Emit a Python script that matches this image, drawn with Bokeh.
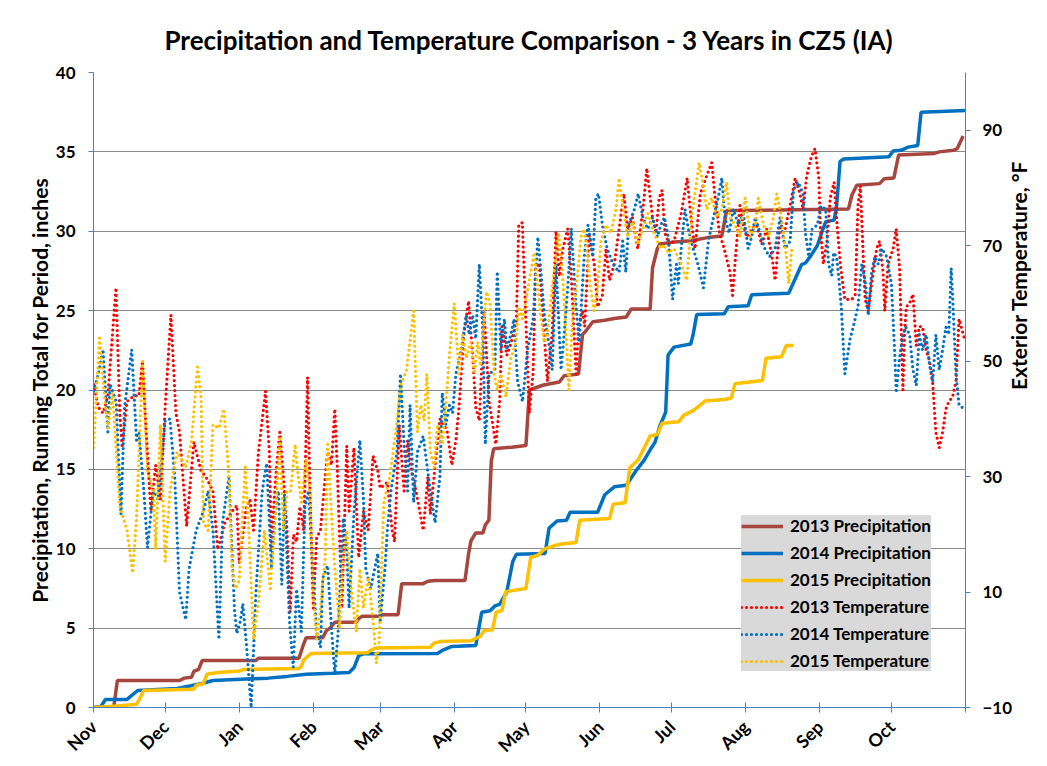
import math
from bokeh.plotting import figure
from bokeh.models import Range1d, LinearAxis, FixedTicker, Legend, LegendItem
from bokeh.embed import file_html
from bokeh.resources import INLINE

# ---------------- data ----------------
month_names = ["Nov", "Dec", "Jan", "Feb", "Mar", "Apr", "May", "Jun", "Jul", "Aug", "Sep", "Oct"]
month_start_day = [0, 30, 61, 92, 120, 151, 181, 212, 242, 273, 304, 334]
precip_ticks = [0, 5, 10, 15, 20, 25, 30, 35, 40]
temp_ticks = [-10, 10, 30, 50, 70, 90]

# cumulative precipitation (day of period, inches)
precip_2013 = [(0, 0), (8.5, 0.05), (10, 1.7), (36, 1.7), (38, 1.85), (41, 1.9), (42, 2.27), (44, 2.4), (45.5, 2.96),
               (68, 2.96), (69, 3.1), (86, 3.1), (87.5, 3.8), (89, 4.4), (96, 4.4), (97.5, 4.85), (99, 5.0), (101, 5.37),
               (110, 5.37), (111, 5.6), (112.5, 5.75), (120, 5.75), (121, 5.85), (127.5, 5.85), (129, 7.8), (138, 7.8),
               (140, 7.95), (143, 8.0), (155.5, 8.0), (157, 9.7), (158, 10.5), (160, 11.0), (163, 11.0), (164, 11.5),
               (165.5, 11.8), (166.5, 15.5), (167.5, 16.3), (175, 16.4), (181, 16.5), (182.5, 20.0), (188, 20.3),
               (195, 20.5), (197, 20.9), (203, 21.0), (204.7, 23.5), (206, 23.7), (209, 24.3), (214, 24.4), (218, 24.5),
               (223, 24.6), (225, 25.1), (233, 25.1), (234, 27.7), (236, 28.9), (237, 29.2), (242, 29.3), (250, 29.4),
               (257, 29.6), (263, 29.7), (264, 30.5), (265, 31.3), (316, 31.4), (317.5, 32.3), (319.5, 32.9), (329, 33.0),
               (331, 33.3), (335, 33.35), (337, 34.8), (352, 34.9), (354, 35.0), (360, 35.1), (361.5, 35.2), (364, 36.0)]
precip_2014 = [(0, 0), (3, 0.05), (5, 0.5), (14, 0.5), (15.5, 0.7), (18.5, 1.07), (35, 1.2), (45, 1.5), (50, 1.7),
               (64, 1.8), (73, 1.85), (81, 1.96), (89, 2.1), (100, 2.15), (107, 2.2), (109, 2.5), (111, 3.27), (113, 3.38),
               (144, 3.4), (146, 3.6), (150, 3.85), (160, 3.9), (162.5, 6.0), (166, 6.1), (168, 6.4), (170, 6.5), (173, 7.3),
               (175.5, 9.2), (177, 9.65), (189, 9.7), (190.7, 11.3), (194, 11.75), (198, 11.8), (199.5, 12.3), (211, 12.3),
               (214, 13.4), (218, 13.9), (223, 14.0), (227, 14.9), (230.6, 15.6), (233.3, 16.3), (235, 16.7), (237, 17.7),
               (239.5, 18.6), (240.5, 22.2), (243, 22.7), (250, 22.9), (251, 23.5), (252.5, 24.75), (264, 24.8),
               (265.7, 25.25), (274, 25.3), (275.5, 26.0), (291, 26.1), (294.3, 27.2), (296.4, 27.9), (298, 28.0),
               (300, 28.4), (303, 29.1), (305, 30.0), (306.5, 30.6), (310, 30.7), (311, 31.5), (312.5, 34.4), (314, 34.55),
               (333, 34.7), (334.7, 35.05), (338, 35.1), (341, 35.3), (345, 35.4), (346.4, 37.5), (365, 37.6)]
precip_2015 = [(0, 0), (10, 0.1), (18, 0.2), (19.5, 0.6), (21, 1.07), (42, 1.15), (43, 1.4), (46, 1.5), (47.5, 2.1),
               (52, 2.2), (61, 2.3), (63, 2.4), (86, 2.45), (87, 2.6), (88, 3.0), (89.5, 3.2), (91, 3.4), (114.6, 3.45),
               (116, 3.6), (118, 3.75), (141, 3.8), (142.5, 4.05), (145, 4.15), (158, 4.2), (160, 4.35), (162, 4.5),
               (163.5, 4.85), (167, 4.9), (168.5, 6.0), (171, 6.1), (172.5, 7.3), (181, 7.5), (183, 9.45), (186, 9.6),
               (189, 10.0), (193, 10.2), (196, 10.3), (202, 10.4), (203.5, 11.8), (216, 11.9), (217.5, 12.8), (222.5, 12.9),
               (224.5, 15.1), (228, 15.6), (230, 16.2), (233, 17.1), (236, 17.2), (238, 17.9), (245, 18.0), (247, 18.4),
               (251, 18.7), (256, 19.3), (264, 19.4), (267, 19.5), (268.5, 20.4), (280, 20.6), (281.5, 22.0), (288, 22.1),
               (290, 22.8), (293, 22.8)]

# daily exterior temperature (day of period, deg F)
temp_2013 = [(0, 46), (2, 42), (4, 41), (6, 44), (8, 55), (9.4, 62.7), (11, 41), (12, 35), (14, 43), (17, 44), (19, 44),
             (20.5, 50), (22, 38), (24, 24), (26, 32), (28, 26), (30, 42), (32.4, 58), (34.5, 41), (36, 37.7), (39, 21.4),
             (42, 36), (45, 31), (47, 30), (50, 27.5), (52, 17.4), (55, 22), (58, 24), (60, 25),
             (61, 15), (64, 24.8), (65.5, 26), (67, 20.7), (69, 34), (72, 44.8), (73.6, 34.3), (74.5, 17.4), (75.3, 24),
             (76.5, 31), (78, 37.7), (79.5, 30), (81, 20.7), (82.3, 6.5), (83.7, 20), (85, 18.7), (86.4, 24.8), (88, 20.7),
             (89.6, 47.2), (90.6, 27.5), (92, 7.2), (93.4, 19.4), (95, 20.7), (97, 30), (98, 34.3), (99.6, 32), (101, 41.7),
             (102, 32), (104, 7.2), (106, 35.3), (107, 24), (109, 35), (111, 16), (113, 24), (115, 20.7), (117, 33.6),
             (119, 31),
             (120, 28), (123, 29), (125, 20.7), (126, 18.7), (128, 39), (130, 27.5), (131.5, 36.3), (133, 31), (135, 27.5),
             (138, 20.7), (140, 30), (141, 23.5), (143.5, 34), (145, 40), (148, 38), (150, 32), (151.7, 36.3), (153, 42),
             (155, 54.6), (157, 60.4), (158.7, 51), (160, 42), (161.5, 39.7), (163.5, 58.7), (165.6, 43), (168.4, 35.6),
             (170, 43), (171, 56), (173, 51), (174.7, 53), (177, 57), (178, 73.6),
             (179.5, 74), (182.4, 41), (184, 48), (185, 66), (186.6, 67), (190, 46.5), (192, 55), (193.6, 72.5),
             (195, 64.7), (196.4, 69.4), (198.5, 72.9), (200, 64.7), (202, 47.8), (203, 56), (204.7, 58.7), (205.6, 56),
             (207.5, 72.2), (209.6, 66.8), (211, 59.4), (213, 61.4), (214.5, 69.5), (216, 64), (218, 66.8), (220, 72.9),
             (222, 79), (223.6, 72.9), (225.6, 74.9), (227.8, 69.5), (230, 76.3), (231.6, 83.4), (234, 74.9),
             (235.4, 72.2), (236.8, 78.3),
             (238, 79.6), (239.2, 72.2), (241, 70.2), (243, 70.8), (246, 75.6), (248.5, 81.7), (250.4, 73.6),
             (251.8, 69.5), (254, 79), (256.3, 81.7), (258.8, 84.4), (260, 79), (262, 72.2), (264, 69.5), (266.4, 65.4),
             (267.5, 61.4), (269, 69.5), (270.6, 77), (272, 73.6), (273.4, 71.5), (275.5, 72.9), (277.6, 73.6),
             (279.7, 70.2), (281.8, 72.9), (284, 68.1), (285.3, 64), (287.4, 73.6), (289.5, 72.9), (291.6, 77),
             (293.7, 81.7), (295.7, 79), (297, 76.3),
             (298.5, 82), (300.5, 85.5), (302, 86.8), (303.6, 81.7), (304.3, 72.9), (305.5, 66.8), (307, 70.8),
             (308.4, 78.3), (310, 81), (311, 74.9), (312.6, 66.8), (314.5, 60.7), (317.4, 60.7), (318.8, 61.4), (320, 77),
             (321, 80.4), (322.2, 68.1), (323, 60.7), (324.3, 58.7), (325.7, 63.4), (327.8, 69.5), (329, 70.8),
             (330.5, 65.4), (331.2, 58.7), (332.6, 66.8), (334.7, 69.5), (336, 72.9), (337.4, 66.1), (338, 57.3),
             (338.8, 45), (339.5, 54.6), (340.2, 59.4), (341.6, 60), (343, 61.6), (344.4, 52.7), (345.7, 56), (347, 56),
             (348.5, 52), (350, 50), (351.3, 46), (352.6, 37.7), (354, 35), (355.4, 37.7), (356.8, 41.7), (358, 43),
             (359.6, 43.8), (361, 46.5), (362.3, 57.3), (364.5, 54)]
temp_2014 = [(0, 44.8), (2, 47.8), (4, 52), (6, 37.7), (7, 46), (9.5, 43), (11.5, 23.5), (13, 42), (16, 52), (18, 36.3),
             (19, 37.7), (21, 28), (22.6, 17.7), (25, 27.5), (27, 26), (30, 39.7), (32, 40), (34, 30), (36, 10),
             (38.6, 5.2), (40, 14), (43, 20.7), (46, 24), (48, 27.5), (50, 20.7), (52.5, 1.8), (54, 22), (56.7, 30),
             (59, 7), (60, 2.8),
             (61.5, 5), (62.5, 8), (64, 1), (66, -10), (68, 10), (70.5, 27), (71.5, 30), (72.5, 32.3), (74.5, 14),
             (76, 23.5), (77.4, 27.5), (78.8, 11.3), (80, 27), (82, 5.2), (83.6, -3), (85, 10.5), (87, 3.1), (88.5, 24.8),
             (90, 27.5), (92, 12.5), (93.4, 3.1), (95, 0.4), (96, 12.5), (98, 14.6), (99.6, 3.8), (101, -4.3),
             (102.4, 3.1), (104.5, 22.8), (106, 17.4), (107, 7.2), (109, 23.5), (111.5, 36.3), (113, 26), (114, 14),
             (116, 10.6), (119, 16.7),
             (120, 5), (122, 14), (123, 20.7), (124.5, 27.5), (127, 34.3), (128.5, 47.8), (130, 35.6), (131.5, 27.5),
             (132.5, 42.4), (134, 25.5), (135.6, 34.3), (138, 37), (141, 27.5), (143, 22), (145, 30), (146, 44.5),
             (147.5, 39), (149, 42.4), (150.3, 41), (151.7, 47.8), (154, 52), (156, 58), (157.3, 54.6), (158.7, 58),
             (160, 53.9), (161.5, 66.8), (163, 54.6), (164, 35.6), (165.6, 47.8), (168, 48.5), (169, 65.5),
             (170.5, 52), (172, 57.3), (173, 52), (174.7, 54.6), (176, 57.3), (177.5, 46.5),
             (179.6, 43), (181.7, 52), (184, 57.3), (186, 71.5), (187.3, 65.4), (188.7, 58), (191, 52), (192, 48.5),
             (193.6, 66.8), (195.7, 48.5), (197, 54.6), (198.5, 62.7), (200, 73), (202, 59.4), (203.3, 53.3),
             (205.4, 68.1), (207, 73.6), (209, 68.1), (210.3, 78.3), (211.4, 79), (213, 73.6), (215, 69.5),
             (217.5, 66.8), (220, 65.4), (221.5, 70.8), (222.8, 65.4), (224, 73.6), (226.4, 76.3), (228, 79),
             (230, 74.9), (232, 72.9), (234, 74.9), (236, 71.5), (237.5, 73.6),
             (239, 74.9), (240.6, 71.5), (242.4, 60.7), (244, 66.8), (244.8, 63.4), (246, 69.5), (247.6, 76.3),
             (249, 72.9), (251, 69.5), (253, 66.8), (255.3, 62.7), (257.4, 70.8), (259.5, 74.9), (261.5, 78.3),
             (263, 81.7), (264.3, 74.9), (266, 72.2), (267.8, 76.3), (270, 73.6), (272, 75.6), (274, 69.5),
             (275.5, 71.5), (277, 74.9), (279, 72.2), (281, 69.5), (283, 68.1), (285.3, 69.5), (287.4, 74.9),
             (289.5, 69.5), (291.6, 70.8), (293, 79.7), (295, 81), (297, 79),
             (298, 72.2), (299.4, 68.1), (300.8, 72.9), (303, 73.6), (304.5, 76.9), (306.5, 76.3), (307.7, 66.8),
             (309, 64.8), (309.8, 68.8), (311, 68.1), (311.9, 64.8), (313, 59.4), (314.5, 47.8), (316.7, 53.9),
             (318, 55.9), (320, 59.4), (321.6, 66.8), (323, 64), (324.3, 57.9), (325.7, 65.4), (327, 68.1),
             (328.5, 66.8), (330, 69.5), (332, 68.1), (334, 63.4), (335.4, 51.2), (336, 44.5), (337.4, 50.5),
             (338.8, 54.6), (340, 55.9), (341.6, 54.6), (343, 48.5), (344.4, 45.8), (345.7, 54.6), (347, 51.9),
             (348.5, 54.6), (350, 49.2), (351.3, 46.5), (352.6, 54.6), (354, 48.5), (355.4, 51.9), (356.8, 55.9),
             (358, 54.6), (359, 66.1), (359.6, 61.4), (361, 47.8), (362.3, 42.4), (364.5, 41.7)]
temp_2015 = [(0, 35), (2.5, 54), (4.6, 43.8), (6, 38.4), (8, 44.5), (11, 25), (12, 23.5), (14, 20.7), (16.4, 13.3),
             (18, 22.7), (20.5, 50), (22.6, 31), (25, 27.5), (26, 17.4), (28, 39), (30, 15.3), (32, 27.5), (35, 34.3),
             (38.6, 31.6), (41, 36), (43.5, 49), (45, 43.8), (46, 22), (48, 20.7), (50, 39), (52.5, 38.4), (54.6, 41.7),
             (56.7, 30), (58, 14), (59.4, 10.6),
             (61, 12), (63.5, 32), (65, 20.7), (67, 1.8), (69, 8), (71.5, 20.7), (74, 10.6), (76, 22), (78, 37),
             (79.5, 20.7), (81, 27.5), (82.5, 27.5), (84.4, 35.6), (85.7, 30), (87, 25.5), (89, 33), (90.6, 27.5),
             (92, 9.2), (93.4, 1.8), (95, 7.2), (97, 16), (98, 35.6), (99.6, 23.5), (101, 14), (103, 3.8), (104.5, 15.3),
             (106, 20.7), (108, 9.9), (110, 3.1), (111.5, 14), (113, 7.2), (115, 12.6), (117, 5.2), (118.4, -2.3),
             (119.5, 1), (121.5, 25.5), (124, 30), (126.5, 37.7), (128.6, 45.8), (131, 48.5), (134, 58.7), (135.6, 37.7),
             (137, 42.4), (138.4, 39.7), (139.5, 47.8), (141, 34.3), (142.6, 31.6), (144, 39), (146, 35.6),
             (147.5, 42.4), (149, 51.2), (151, 60), (153, 47.8), (154.5, 54.6), (156, 50.5), (158, 53.3), (159.4, 47.8),
             (160.8, 53.3), (162, 49.2), (164.5, 62), (166, 60), (167.7, 47.8), (169, 45), (170.5, 47.8), (172.6, 43.8),
             (174.7, 50.5), (176.8, 53.3), (178, 59.4),
             (179.6, 57.3), (182.4, 64), (184.5, 68.8), (187, 58.7), (188.7, 53.3), (190, 54.6), (192, 62.7),
             (194.7, 72.2), (196.4, 64.7), (198, 53.3), (199, 45), (200.5, 57.3), (202.6, 64.7), (204, 71.5),
             (205.4, 72.9), (206.8, 68.1), (208, 62.7), (209.6, 58.7), (211, 62.7), (212.4, 70.8), (214.5, 73.6),
             (216.6, 72.2), (218.7, 76.3), (220, 81.7), (221.5, 77), (223.6, 71.5), (225.7, 74.2), (227.8, 70.2),
             (230, 72.9), (232, 75.6), (234, 72.9), (236, 70.8), (237.5, 69.5),
             (238.5, 70.2), (240.6, 68.8), (243, 69.5), (246, 66.8), (248.3, 64), (250.4, 74.9), (253.5, 84.4),
             (255.3, 80.4), (256.7, 76.3), (258.7, 78.3), (261, 74.9), (263, 76.3), (265, 81), (266.4, 74.9),
             (268.5, 73.6), (270.6, 71.5), (272.7, 78.3), (275, 71.5), (277, 73.6), (278.3, 78.3), (280.4, 73.6),
             (282.5, 71.5), (284.6, 74.9), (286, 79), (288, 74.9), (290, 68.1), (291, 63.4), (292.3, 69.5)]

# ---------------- styling ----------------
FONT = "Lato"
AXIS_BLUE = "#4F81BD"
C_BROWN = "#A6463F"
C_BLUE = "#0070C0"
C_GOLD = "#FFC000"
C_RED = "#FF0000"

p = figure(width=1047, height=766, output_backend="svg", toolbar_location=None,
           x_range=Range1d(0, 365), y_range=Range1d(0, 40),
           min_border_left=93, min_border_right=82, min_border_top=72, min_border_bottom=59)
p.extra_y_ranges = {"temp": Range1d(-10, 100)}

p.title.text = "Precipitation and Temperature Comparison - 3 Years in CZ5 (IA)"
p.title.align = "center"
p.title.text_font = FONT
p.title.text_font_size = "26px"
p.title.text_font_style = "bold"
p.title.text_color = "black"
p.title.standoff = 33

p.outline_line_color = None
p.background_fill_color = "white"
p.border_fill_color = "white"

# x axis
xa = p.xaxis[0]
xa.ticker = FixedTicker(ticks=month_start_day + [365])
xa.major_label_overrides = {d: n for d, n in zip(month_start_day, month_names)}
xa.major_label_overrides[365] = ""
xa.major_label_orientation = math.pi / 4
xa.major_label_text_font = FONT
xa.major_label_text_font_size = "18px"
xa.major_label_text_font_style = "bold"
xa.major_label_text_color = "black"
xa.axis_line_color = AXIS_BLUE
xa.major_tick_line_color = AXIS_BLUE
xa.major_tick_in = 5
xa.major_tick_out = 5
xa.minor_tick_line_color = None
xa.major_label_standoff = 11

# left axis
ya = p.yaxis[0]
ya.ticker = FixedTicker(ticks=precip_ticks)
ya.axis_label = "Precipitation, Running Total for Period, inches"
ya.axis_label_text_font = FONT
ya.axis_label_text_font_size = "21px"
ya.axis_label_text_font_style = "bold"
ya.axis_label_text_color = "black"
ya.axis_label_standoff = 1
ya.major_label_text_font = FONT
ya.major_label_text_font_size = "17px"
ya.major_label_text_font_style = "bold"
ya.major_label_text_color = "black"
ya.axis_line_color = AXIS_BLUE
ya.major_tick_line_color = AXIS_BLUE
ya.major_tick_in = 0
ya.major_tick_out = 5
ya.minor_tick_line_color = None
ya.major_label_standoff = 13

# right axis
ra = LinearAxis(y_range_name="temp", ticker=FixedTicker(ticks=temp_ticks),
                axis_label="Exterior Temperature, °F")
ra.axis_label_orientation = math.pi / 2
ra.axis_label_text_font = FONT
ra.axis_label_text_font_size = "21px"
ra.axis_label_text_font_style = "bold"
ra.axis_label_text_color = "black"
ra.axis_label_standoff = 3
ra.major_label_text_font = FONT
ra.major_label_text_font_size = "17px"
ra.major_label_text_font_style = "bold"
ra.major_label_text_color = "black"
ra.axis_line_color = AXIS_BLUE
ra.major_tick_line_color = AXIS_BLUE
ra.major_tick_in = 0
ra.major_tick_out = 5
ra.minor_tick_line_color = None
ra.major_label_standoff = 12
p.add_layout(ra, "right")

p.xgrid.visible = False
p.ygrid.grid_line_color = "#8A8A8A"
p.ygrid.grid_line_width = 1


def split(pairs):
    return [a for a, _ in pairs], [b for _, b in pairs]


r_p13 = p.line(*split(precip_2013), line_color=C_BROWN, line_width=3.5)
r_p14 = p.line(*split(precip_2014), line_color=C_BLUE, line_width=3.5)
r_p15 = p.line(*split(precip_2015), line_color=C_GOLD, line_width=3.5)

dot = dict(line_width=3.2, line_dash="0 5", line_cap="round", line_join="round", y_range_name="temp")
r_t13 = p.line(*split(temp_2013), line_color=C_RED, **dot)
r_t14 = p.line(*split(temp_2014), line_color=C_BLUE, **dot)
r_t15 = p.line(*split(temp_2015), line_color=C_GOLD, **dot)

legend = Legend(items=[
    LegendItem(label="2013 Precipitation", renderers=[r_p13]),
    LegendItem(label="2014 Precipitation", renderers=[r_p14]),
    LegendItem(label="2015 Precipitation", renderers=[r_p15]),
    LegendItem(label="2013 Temperature", renderers=[r_t13]),
    LegendItem(label="2014 Temperature", renderers=[r_t14]),
    LegendItem(label="2015 Temperature", renderers=[r_t15]),
], location=(648, 36))
legend.background_fill_color = "#D9D9D9"
legend.background_fill_alpha = 1.0
legend.border_line_color = None
legend.label_text_font = FONT
legend.label_text_font_size = "17px"
legend.label_text_font_style = "bold"
legend.label_text_color = "black"
legend.glyph_width = 42
legend.glyph_height = 20
legend.label_height = 20
legend.spacing = 6
legend.padding = 7
legend.margin = 0
legend.label_standoff = 7
p.add_layout(legend)

open("out.html", "w").write(file_html(p, INLINE))
